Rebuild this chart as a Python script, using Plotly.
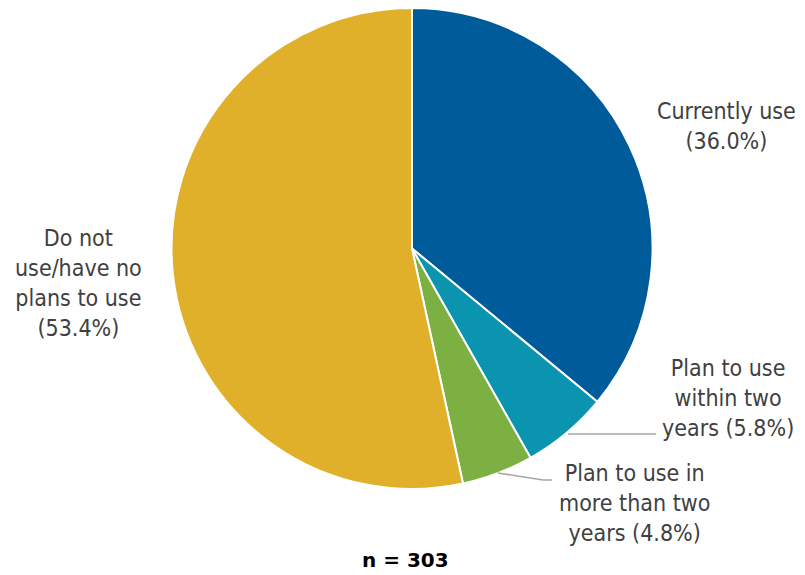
import plotly.graph_objects as go

categories = ["Currently use", "Plan to use within two years",
              "Plan to use in more than two years", "Do not use/have no plans to use"]
values = [36.0, 5.8, 4.8, 53.4]
label_texts = ["Currently use<br>(36.0%)",
               "Plan to use<br>within two<br>years (5.8%)",
               "Plan to use in<br>more than two<br>years (4.8%)",
               "Do not<br>use/have no<br>plans to use<br>(53.4%)"]
colors = ["#005b9a", "#0a94b0", "#7cb043", "#e0b02a"]

# the page body has an 8px margin; lay out in page pixels and offset
OFF = 8
W, H = 805 - OFF, 575 - OFF
cx, cy, r = 412 - OFF, 248.5 - OFF, 240.5

fig = go.Figure(go.Pie(
    labels=categories, values=values, sort=False, direction="clockwise",
    rotation=0, textinfo="none", hoverinfo="label+percent",
    marker=dict(colors=colors, line=dict(color="white", width=2)),
    domain=dict(x=[(cx - r) / W, (cx + r) / W],
                y=[max(0, (H - cy - r) / H), min(1, (H - cy + r) / H)]),
    showlegend=False,
))

def px(x):
    return (x - OFF) / W

def py(y):
    return 1 - (y - OFF) / H

label_pos = [(726, 126), (728, 398), (634, 503), (78, 283)]
FAM = "DejaVu Sans Condensed"
font = dict(family=FAM, size=23, color="#404040")
anns = []
for t, (x, y) in zip(label_texts, label_pos):
    anns.append(dict(x=px(x), y=py(y), xref="paper", yref="paper", text=t,
                     showarrow=False, font=font, align="center",
                     xanchor="center", yanchor="middle"))
anns.append(dict(x=px(405), y=py(560), xref="paper", yref="paper", text="<b>n = 303</b>",
                 showarrow=False, font=dict(family="DejaVu Sans", size=20, color="#000000"),
                 xanchor="center", yanchor="middle"))

shapes = [
    dict(type="path", xref="paper", yref="paper",
         path=f"M {px(568)} {py(434)} L {px(656)} {py(434)}",
         line=dict(color="#a6a6a6", width=1.5)),
    dict(type="path", xref="paper", yref="paper",
         path=f"M {px(498)} {py(473)} L {px(543)} {py(480)} L {px(552)} {py(480)}",
         line=dict(color="#a6a6a6", width=1.5)),
]

fig.update_layout(width=W, height=H, margin=dict(l=0, r=0, t=0, b=0),
                  paper_bgcolor="white", plot_bgcolor="white",
                  annotations=anns, shapes=shapes)

fig.write_html("out.html")
